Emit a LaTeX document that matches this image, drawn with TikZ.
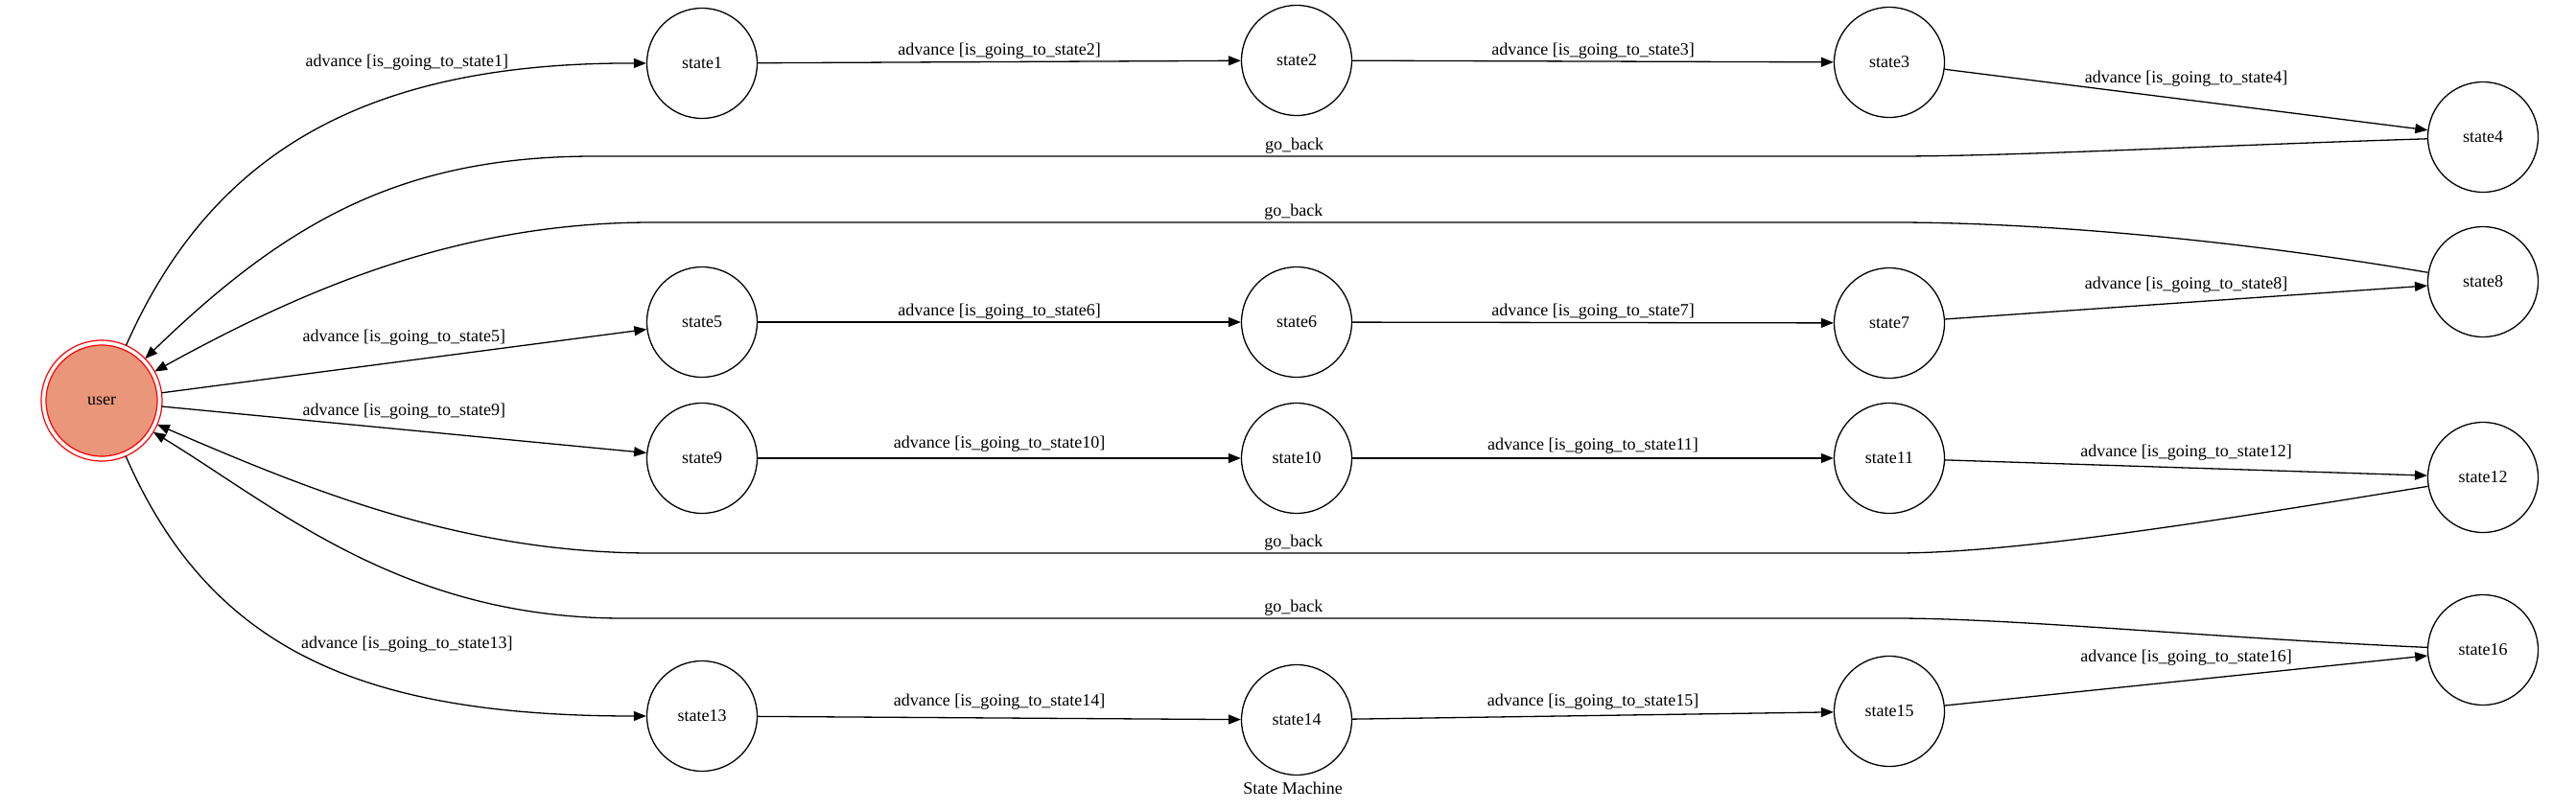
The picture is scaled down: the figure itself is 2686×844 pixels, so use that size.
\documentclass[tikz,border=0pt]{standalone}
\usepackage{fontspec}
\setmainfont{Liberation Serif}
\usetikzlibrary{arrows.meta,positioning}
\definecolor{usersalmon}{HTML}{E9967A}
\begin{document}
\begin{tikzpicture}[x=1pt,y=-1pt,
  every node/.style={font=\fontsize{18}{21}\selectfont,inner sep=2pt},
  state/.style={circle,draw,line width=1.3pt,minimum size=115pt,inner sep=0pt},
  trans/.style={-{Triangle[length=13pt,width=10pt]},line width=1.3pt}]
\useasboundingbox (0,0) rectangle (2686,844);
\node[state,draw=red,line width=1.2pt,fill=usersalmon,minimum size=116pt,outer sep=5pt] (user) at (106,418) {user};
\draw[red,line width=1.2pt] (user.center) circle[radius=63pt];
\node[state] (state1) at (732,66) {state1};
\node[state] (state2) at (1352,63) {state2};
\node[state] (state3) at (1970,65) {state3};
\node[state] (state4) at (2589,143) {state4};
\node[state] (state5) at (732,336) {state5};
\node[state] (state6) at (1352,336) {state6};
\node[state] (state7) at (1970,337) {state7};
\node[state] (state8) at (2589,294) {state8};
\node[state] (state9) at (732,478) {state9};
\node[state] (state10) at (1352,478) {state10};
\node[state] (state11) at (1970,478) {state11};
\node[state] (state12) at (2589,498) {state12};
\node[state] (state13) at (732,747) {state13};
\node[state] (state14) at (1352,751) {state14};
\node[state] (state15) at (1970,742) {state15};
\node[state] (state16) at (2589,678) {state16};
\node (caption) at (1348,822) {State Machine};
\draw[trans] (user) .. controls (220,160) and (380,65) .. node[pos=0.67,above=21pt] {advance [is\_going\_to\_state1]} (state1.west);
\draw[trans] (state1) -- node[above] {advance [is\_going\_to\_state2]} (state2);
\draw[trans] (state2) -- node[above] {advance [is\_going\_to\_state3]} (state3);
\draw[trans] (state3) -- node[above=11pt] {advance [is\_going\_to\_state4]} (state4);
\draw[trans] (user) -- node[above=14pt] {advance [is\_going\_to\_state5]} (state5);
\draw[trans] (state5) -- node[above] {advance [is\_going\_to\_state6]} (state6);
\draw[trans] (state6) -- node[above] {advance [is\_going\_to\_state7]} (state7);
\draw[trans] (state7) -- node[above=7pt] {advance [is\_going\_to\_state8]} (state8);
\draw[trans] (user) -- node[above=8pt] {advance [is\_going\_to\_state9]} (state9);
\draw[trans] (state9) -- node[above=4pt] {advance [is\_going\_to\_state10]} (state10);
\draw[trans] (state10) -- node[above=2pt] {advance [is\_going\_to\_state11]} (state11);
\draw[trans] (state11) -- node[above=5pt] {advance [is\_going\_to\_state12]} (state12);
\draw[trans] (user) .. controls (220,680) and (380,747) .. node[pos=0.67,above=40pt] {advance [is\_going\_to\_state13]} (state13.west);
\draw[trans] (state13) -- node[above=6pt] {advance [is\_going\_to\_state14]} (state14);
\draw[trans] (state14) -- node[above=3pt] {advance [is\_going\_to\_state15]} (state15);
\draw[trans] (state15) -- node[above=13pt] {advance [is\_going\_to\_state16]} (state16);
\draw[trans] (state4) .. controls (2300,152) and (2100,163) .. (1976,163) -- node[pos=0.462,above] {go\_back} (620,163) .. controls (420,163) and (300,230) .. (user);
\draw[trans] (state8) .. controls (2300,245) and (2100,232) .. (1976,232) -- node[pos=0.484,above] {go\_back} (680,232) .. controls (480,232) and (320,300) .. (user);
\draw[trans] (state12) .. controls (2300,545) and (2100,577) .. (1976,577) -- node[pos=0.484,above] {go\_back} (680,577) .. controls (480,577) and (320,510) .. (user);
\draw[trans] (state16) .. controls (2300,665) and (2100,645) .. (1976,645) -- node[pos=0.473,above] {go\_back} (650,645) .. controls (420,645) and (290,530) .. (user);
\end{tikzpicture}
\end{document}
